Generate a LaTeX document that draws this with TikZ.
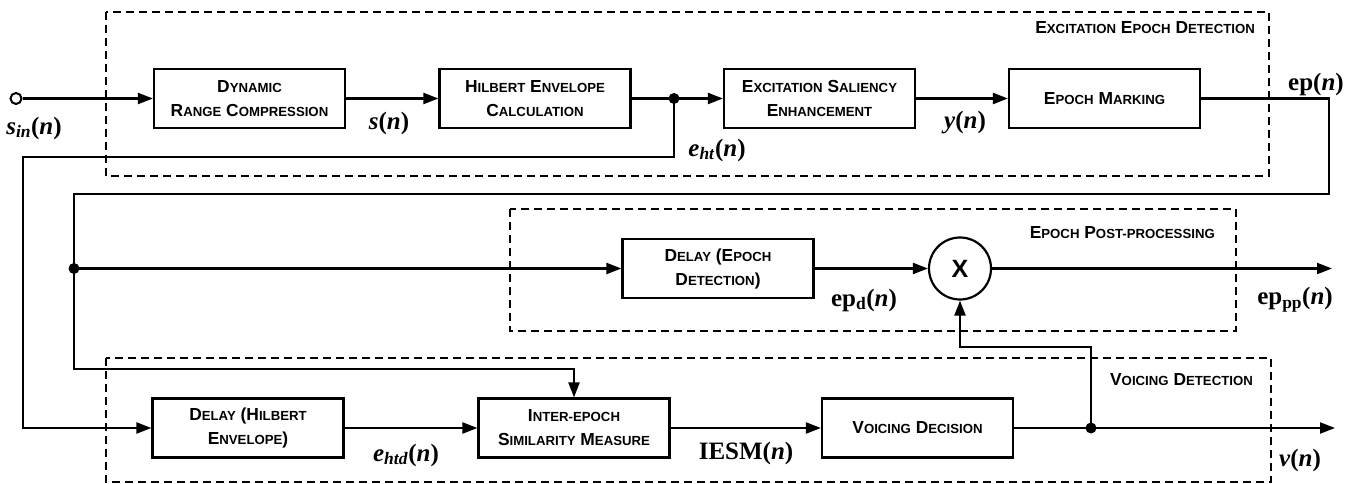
\documentclass[tikz,border=0pt]{standalone}
\usepackage{fontspec}
\setmainfont{Liberation Serif}
\newfontfamily\blockfont{Liberation Sans}
\usetikzlibrary{arrows.meta}
% small capitals built from reduced upper-case letters
\newcommand\smc[1]{{\fontsize{13.2}{13}\selectfont #1}}
\newcommand\sig[1]{\textbf{#1}}
\tikzset{
  blk/.style={draw, line width=2.2pt, minimum width=191pt, minimum height=59pt,
    inner sep=0pt, align=center, font=\blockfont\bfseries\fontsize{17.4}{24}\selectfont},
  grp/.style={draw, line width=2pt, dash pattern=on 8pt off 5pt},
  grplabel/.style={anchor=east, inner sep=0pt, font=\blockfont\bfseries\fontsize{17.4}{20}\selectfont},
  wire/.style={line width=2.2pt},
  arr/.style={wire, -{Triangle[length=15pt,width=11pt]}},
  lab/.style={inner sep=0pt, font=\fontsize{25}{25}\selectfont},
  dot/.style={circle, fill, minimum size=11pt, inner sep=0pt},
}
\begin{document}
\begin{tikzpicture}[x=1pt, y=-1pt]
\useasboundingbox (0,0) rectangle (1363,484);

% group frames
\draw[grp] (106,12) rectangle (1269,176);
\draw[grp] (510,209) rectangle (1236,331);
\draw[grp] (106,358) rectangle (1271,482);
\node[grplabel] (gEED) at (1255,28) {E\smc{XCITATION} E\smc{POCH} D\smc{ETECTION}};
\node[grplabel] (gEPP) at (1215,233) {E\smc{POCH} P\smc{OST-PROCESSING}};
\node[grplabel] (gVD) at (1253,380) {V\smc{OICING} D\smc{ETECTION}};

% blocks
\node[blk] (drc) at (249.5,98.5) {D\smc{YNAMIC}\\R\smc{ANGE} C\smc{OMPRESSION}};
\node[blk] (hil) at (535,98.5) {H\smc{ILBERT} E\smc{NVELOPE}\\C\smc{ALCULATION}};
\node[blk] (ese) at (819.5,98.5) {E\smc{XCITATION} S\smc{ALIENCY}\\E\smc{NHANCEMENT}};
\node[blk] (em) at (1104.5,98.5) {E\smc{POCH} M\smc{ARKING}};
\node[blk] (dle) at (718,268.5) {D\smc{ELAY} (E\smc{POCH}\\D\smc{ETECTION})};
\node[draw, circle, line width=2.2pt, minimum size=62pt, inner sep=0pt,
      font=\blockfont\bfseries\fontsize{25}{25}\selectfont] (mult) at (960,268.5) {X};
\node[blk] (dlh) at (248,428) {D\smc{ELAY} (H\smc{ILBERT}\\E\smc{NVELOPE})};
\node[blk] (iesm) at (574,428) {I\smc{NTER-EPOCH}\\S\smc{IMILARITY} M\smc{EASURE}};
\node[blk] (vd) at (917.5,428) {V\smc{OICING} D\smc{ECISION}};

% terminals, junctions and bends
\node[draw, circle, line width=2pt, minimum size=11pt, inner sep=0pt, fill=white] (src) at (16,98.5) {};
\coordinate (j1) at (674,98.5);
\coordinate (epr) at (1329,194);
\coordinate (epl) at (74,194);
\coordinate (j2) at (74,268.5);
\coordinate (c3) at (74,369);
\coordinate (fb1) at (674,157);
\coordinate (fb2) at (23,157);
\coordinate (out1) at (1332,268.5);
\coordinate (out2) at (1335,428);
\coordinate (j3) at (1091,428);
\coordinate (c4) at (1091,347);

% excitation epoch detection chain
\draw[arr] (src) -- (drc);
\draw[arr] (drc) -- (hil);
\draw[wire] (hil) -- (j1);
\draw[arr] (j1) -- (ese);
\draw[arr] (ese) -- (em);

% epoch signal routed to post-processing and similarity measure
\draw[arr] (em.east) -| (epr) -- (epl) -- (c3) -| (iesm.north);
\draw[arr] (j2) -- (dle.west);
\draw[arr] (dle) -- (mult);
\draw[arr] (mult) -- (out1);

% Hilbert envelope routed to the voicing stage
\draw[arr] (j1) -- (fb1) -- (fb2) |- (dlh.west);
\draw[arr] (dlh) -- (iesm);
\draw[arr] (iesm) -- (vd);
\draw[arr] (vd) -- (out2);
\draw[arr] (j3) -- (c4) -| (mult.south);

\node[dot] (d1) at (j1) {};
\node[dot] (d2) at (j2) {};
\node[dot] (d3) at (j3) {};

% signal labels
\node[lab] (lsin) at (34,128) {\sig{\textit{s}\textsubscript{\textit{in}}(\textit{n})}};
\node[lab] (ls) at (389,123) {\sig{\textit{s}(\textit{n})}};
\node[lab] (leht) at (717,150) {\sig{\textit{e}\textsubscript{\textit{ht}}(\textit{n})}};
\node[lab] (ly) at (965,123) {\sig{\textit{y}(\textit{n})}};
\node[lab] (lep) at (1316,84) {\sig{ep(\textit{n})}};
\node[lab] (lepd) at (864,300) {\sig{ep\textsubscript{d}(\textit{n})}};
\node[lab] (leppp) at (1295,300) {\sig{ep\textsubscript{pp}(\textit{n})}};
\node[lab] (lehtd) at (406,455) {\sig{\textit{e}\textsubscript{\textit{htd}}(\textit{n})}};
\node[lab] (liesm) at (746,453) {\sig{IESM(\textit{n})}};
\node[lab] (lv) at (1300,460) {\sig{\textit{v}(\textit{n})}};
\end{tikzpicture}
\end{document}
